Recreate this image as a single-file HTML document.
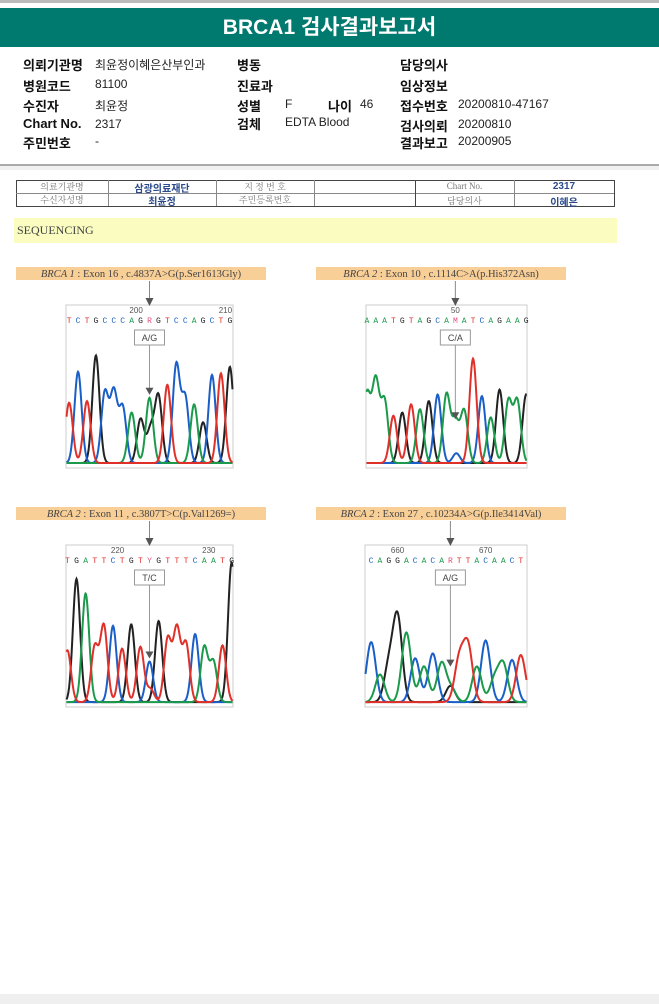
<!DOCTYPE html>
<html><head><meta charset="utf-8">
<style>
body{margin:0;width:659px;height:1004px;position:relative;background:#fff;overflow:hidden;font-family:"Liberation Sans","Noto Sans CJK KR",sans-serif;}
.a{position:absolute;white-space:nowrap;}
.lb{font-weight:bold;font-size:13px;color:#111;}
.v{font-size:12px;color:#222;}
.t{font-size:9px;color:#777;text-align:center;font-family:"Liberation Serif","Noto Serif CJK SC",serif;}
.tb{font-size:10px;color:#2a4a8a;font-weight:bold;text-align:center;}
</style></head><body>
<div class="a" style="left:0;top:0;width:659px;height:3px;background:#bbb"></div>
<div class="a" style="left:0;top:8px;width:659px;height:39px;background:#00796f;color:#fff;font-size:21px;font-weight:bold;text-align:center;line-height:39px">BRCA1 검사결과보고서</div>

<div class="a lb" style="left:23px;top:55px">의뢰기관명</div>
<div class="a v" style="left:95px;top:56px">최윤정이혜은산부인과</div>
<div class="a lb" style="left:237px;top:55px">병동</div>
<div class="a lb" style="left:400px;top:55px">담당의사</div>

<div class="a lb" style="left:23px;top:76px">병원코드</div>
<div class="a v" style="left:95px;top:77px">81100</div>
<div class="a lb" style="left:237px;top:76px">진료과</div>
<div class="a lb" style="left:400px;top:76px">임상정보</div>

<div class="a lb" style="left:23px;top:96px">수진자</div>
<div class="a v" style="left:95px;top:97px">최윤정</div>
<div class="a lb" style="left:237px;top:96px">성별</div>
<div class="a v" style="left:285px;top:97px">F</div>
<div class="a lb" style="left:328px;top:96px">나이</div>
<div class="a v" style="left:360px;top:97px">46</div>
<div class="a lb" style="left:400px;top:96px">접수번호</div>
<div class="a v" style="left:458px;top:97px">20200810-47167</div>

<div class="a lb" style="left:23px;top:116px">Chart No.</div>
<div class="a v" style="left:95px;top:117px">2317</div>
<div class="a lb" style="left:237px;top:114px">검체</div>
<div class="a v" style="left:285px;top:115px">EDTA Blood</div>
<div class="a lb" style="left:400px;top:116px">검사의뢰</div>
<div class="a v" style="left:458px;top:117px">20200810</div>

<div class="a lb" style="left:23px;top:133px">주민번호</div>
<div class="a v" style="left:95px;top:134px">-</div>
<div class="a lb" style="left:400px;top:133px">결과보고</div>
<div class="a v" style="left:458px;top:134px">20200905</div>

<div class="a" style="left:0;top:164px;width:659px;height:2px;background:#aaa"></div>
<div class="a" style="left:0;top:166px;width:659px;height:4px;background:#f0f0f0"></div>

<div class="a" style="left:16px;top:180px;width:597px;height:25px;border:1px solid #444;"></div>
<div class="a" style="left:16px;top:193px;width:598px;height:1px;background:#888"></div>
<div class="a" style="left:108px;top:180px;width:1px;height:26px;background:#888"></div>
<div class="a" style="left:216px;top:180px;width:1px;height:26px;background:#888"></div>
<div class="a" style="left:314px;top:180px;width:1px;height:26px;background:#888"></div>
<div class="a" style="left:415px;top:180px;width:1px;height:26px;background:#444"></div>
<div class="a" style="left:514px;top:180px;width:1px;height:26px;background:#888"></div>
<div class="a t" style="left:16px;top:180px;width:92px">의료기관명</div>
<div class="a tb" style="left:108px;top:180px;width:108px">삼광의료재단</div>
<div class="a t" style="left:216px;top:180px;width:98px">지 정 번 호</div>
<div class="a t" style="left:415px;top:181px;width:99px">Chart No.</div>
<div class="a tb" style="left:514px;top:181px;width:100px">2317</div>
<div class="a t" style="left:16px;top:193px;width:92px">수신자성명</div>
<div class="a tb" style="left:108px;top:193px;width:108px">최윤정</div>
<div class="a t" style="left:216px;top:193px;width:98px">주민등록번호</div>
<div class="a t" style="left:415px;top:194px;width:99px">담당의사</div>
<div class="a tb" style="left:514px;top:194px;width:100px">이혜은</div>

<div class="a" style="left:14px;top:218px;width:600px;height:25px;background:#fafcc0;font-family:'Liberation Serif',serif;font-size:12px;color:#444;line-height:24px;padding-left:3px">SEQUENCING</div>

<div class="a" style="left:0;top:994px;width:659px;height:10px;background:#efefef"></div>

<svg id="chart" class="a" style="left:0;top:0" width="659" height="1004"></svg>

<script>
// ---- data ----
const titles1 = ["BRCA 1", ": Exon 16 , c.4837A>G(p.Ser1613Gly)"];
const bases1 = "TCTGCCCAGRGTCCAGCTG";
const heights1 = [37,56,38,66,43,43,34,31,27,40,41,48,60,40,36,25,54,55,59];
const het1 = [[9,"G",20]];
const ticks1 = [[200,7.5],[210,17.5]];
const call1 = "A/G";

const titles2 = ["BRCA 2", ": Exon 10 , c.1114C>A(p.His372Asn)"];
const bases2 = "AAATGTAGCAMATCAGAAG";
const heights2 = [42,50,38,29,31,36,33,38,42,42,25,32,64,41,28,45,38,38,42];
const het2 = [[10,"C",6]];
const ticks2 = [[50,10]];
const call2 = "C/A";

const titles3 = ["BRCA 2", ": Exon 11 , c.3807T>C(p.Val1269=)"];
const bases3 = "TGATTCTGTYGTTTCAATG";
const heights3 = [32,76,67,34,47,47,33,48,34,25,50,39,45,36,42,34,25,35,86];
const het3 = [[9,"T",8]];
const ticks3 = [[220,5.5],[230,15.5]];
const call3 = "T/C";

const titles4 = ["BRCA 2", ": Exon 27 , c.10234A>G(p.Ile3414Val)"];
const bases4 = "CAGGACACARTTACAACT";
const heights4 = [37,17,22,52,43,27,22,30,24,10,26,34,22,38,14,23,26,29];
const het4 = [[9,"A",8]];
const ticks4 = [[660,3],[670,13]];
const call4 = "A/G";

// ---- layout ----
const panels = [
 {t:titles1,b:bases1,h:heights1,het:het1,ticks:ticks1,call:call1,tx:16,ty:267,bx:66,by:305,bw:167,bh:163,off:0.35,sig:3.6,mark:9},
 {t:titles2,b:bases2,h:heights2,het:het2,ticks:ticks2,call:call2,tx:316,ty:267,bx:366,by:305,bw:161,bh:163,off:0.1,sig:3.6,mark:10},
 {t:titles3,b:bases3,h:heights3,het:het3,ticks:ticks3,call:call3,tx:16,ty:507,bx:66,by:545,bw:167,bh:162,off:0.15,sig:3.6,mark:9},
 {t:titles4,b:bases4,h:heights4,het:het4,ticks:ticks4,call:call4,tx:316,ty:507,bx:365,by:545,bw:162,bh:162,off:0.7,sig:4.6,mark:9}
];
const col = {A:"#1a9a4a",C:"#1a5fc8",G:"#222",T:"#e0302a"};
const amb = {R:["A","G"],M:["A","C"],Y:["C","T"]};
const svg = document.getElementById('chart');
const NS = "http://www.w3.org/2000/svg";
function mk(tag, attrs){const e=document.createElementNS(NS,tag);for(const k in attrs)e.setAttribute(k,attrs[k]);svg.appendChild(e);return e;}

panels.forEach((p,pi)=>{
  const n = p.b.length;
  const sp = p.bw/(n - 1 + 2*p.off);
  const xOf = i => p.bx + (i + p.off)*sp;
  const base = p.by + p.bh - 3;
  const yOf = v => base - v/100*p.bh;
  const tb = mk('rect',{x:p.tx,y:p.ty,width:250,height:13,fill:"#f9cf98"});
  
  
  const tt = mk('text',{x:p.tx+125,y:p.ty+10,"text-anchor":"middle","font-size":"10.5","font-family":"Liberation Serif, serif",fill:"#444"});
  
  
  tt.innerHTML = '<tspan font-style="italic">'+p.t[0]+'</tspan> '+p.t[1];
  const box = mk('rect',{x:p.bx,y:p.by,width:p.bw,height:p.bh,fill:"none",stroke:"#ccc","stroke-width":1});
  
  
  const peaks = {A:[],C:[],G:[],T:[]};
  for(let i=0;i<n;i++){
    const c=p.b[i];
    const ch = amb[c] ? amb[c].find(k=>!p.het.some(h=>h[0]===i&&h[1]===k)) || amb[c][0] : c;
    peaks[ch].push([xOf(i),p.h[i]]);
  }
  p.het.forEach(h=>peaks[h[1]].push([xOf(h[0])+1,h[2]]));
  ["G","C","A","T"].forEach(ch=>{
    let d="";
    for(let x=p.bx+0.5;x<=p.bx+p.bw-0.5;x+=0.5){
      let v=1.2;
      peaks[ch].forEach(pk=>{v+=pk[1]*Math.exp(-((x-pk[0])**2)/(2*p.sig*p.sig));});
      d+=(d?"L":"M")+x.toFixed(1)+","+yOf(Math.min(v,100)).toFixed(1);
    }
    const path=mk('path',{d:d,fill:"none",stroke:col[ch],"stroke-width":2});
    
    
  });
  for(let i=0;i<n;i++){
    const c=p.b[i];
    const bt=mk('text',{x:xOf(i),y:p.by+18,"text-anchor":"middle","font-size":"8","font-family":"Liberation Mono, monospace",fill:amb[c]?"#e0507a":col[c]});
    
    
    bt.textContent=c;
  }
  p.ticks.forEach(tk=>{
    const tx=mk('text',{x:xOf(tk[1]),y:p.by+8,"text-anchor":"middle","font-size":"8","font-family":"Liberation Sans, sans-serif",fill:"#555"});
    
    
    tx.textContent=tk[0];
  });
  const mx = xOf(p.mark);
  const la=mk('line',{x1:mx,y1:p.ty+14,x2:mx,y2:p.by-6,stroke:"#888","stroke-width":1});
  
  
  const ta=mk('polygon',{points:(mx-4)+","+(p.by-7)+" "+(mx+4)+","+(p.by-7)+" "+mx+","+(p.by+1),fill:"#555"});
  
  
  const cb=mk('rect',{x:mx-15,y:p.by+25,width:30,height:15,fill:"#fff",stroke:"#999","stroke-width":1});
  
  
  const ct=mk('text',{x:mx,y:p.by+36,"text-anchor":"middle","font-size":"9","font-family":"Liberation Sans, sans-serif",fill:"#444"});
  
  
  ct.textContent=p.call;
  const pkY = yOf(Math.max(p.h[p.mark],20))-6;
  const l2=mk('line',{x1:mx,y1:p.by+40,x2:mx,y2:pkY-5,stroke:"#999","stroke-width":1});
  
  
  const t2=mk('polygon',{points:(mx-4)+","+(pkY-6)+" "+(mx+4)+","+(pkY-6)+" "+mx+","+(pkY+1),fill:"#555"});
  
  
});
</script>
</body></html>
